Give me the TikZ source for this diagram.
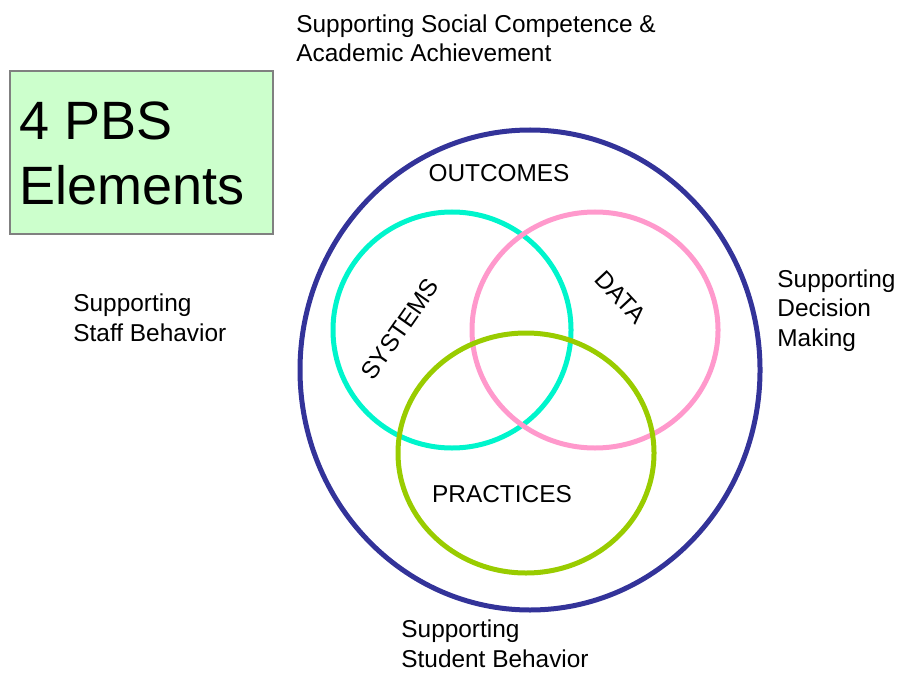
\documentclass[tikz,border=0pt]{standalone}
\usepackage{fontspec}
\setmainfont{Liberation Sans}

\definecolor{pbsnavy}{HTML}{333399}
\definecolor{pbsteal}{HTML}{00F5CC}
\definecolor{pbspink}{HTML}{FF99CC}
\definecolor{pbslime}{HTML}{99CC00}
\definecolor{pbsmint}{HTML}{CCFFCC}

\tikzset{
  ring/.style={line width=2.5pt},
  lbl/.style={inner sep=0pt, font=\fontsize{12.2}{14.6}\selectfont},
  side/.style={lbl, anchor=base west, align=left}
}

\begin{document}
\begin{tikzpicture}[x=0.5pt,y=-0.5pt]
    \useasboundingbox (0,0) rectangle (897,673);
    % title box (base anchor sits on the last line)
    \filldraw[fill=pbsmint,draw=gray,line width=0.6pt] (10,71) rectangle (273,234);
    \node[inner sep=0pt,anchor=base west,align=left,
      font=\fontsize{27}{32.5}\selectfont] (title) at (19,205) {4 PBS\\Elements};
    % rings
    \draw[ring,pbsnavy] (530,370) ellipse [x radius=230, y radius=240];
    \draw[ring,pbsteal] (452,330) ellipse [x radius=119, y radius=118];
    \draw[ring,pbspink] (595,330) ellipse [x radius=123, y radius=118];
    \draw[ring,pbslime] (526,453) ellipse [x radius=128, y radius=120];
    % ring labels
    \node[lbl] (outcomes) at (499,173) {OUTCOMES};
    \node[lbl,rotate=55] (systems) at (400,329) {SYSTEMS};
    \node[lbl,rotate=-47] (data) at (621,297) {DATA};
    \node[lbl] (practices) at (502,494) {PRACTICES};
    % outer labels
    \node[side] (social) at (296,62) {Supporting Social Competence \&\\Academic Achievement};
    \node[side] (staff) at (73,341) {Supporting\\Staff Behavior};
    \node[side] (decision) at (777,346) {Supporting\\Decision\\Making};
    \node[side] (student) at (401,667) {Supporting\\Student Behavior};
\end{tikzpicture}
\end{document}
